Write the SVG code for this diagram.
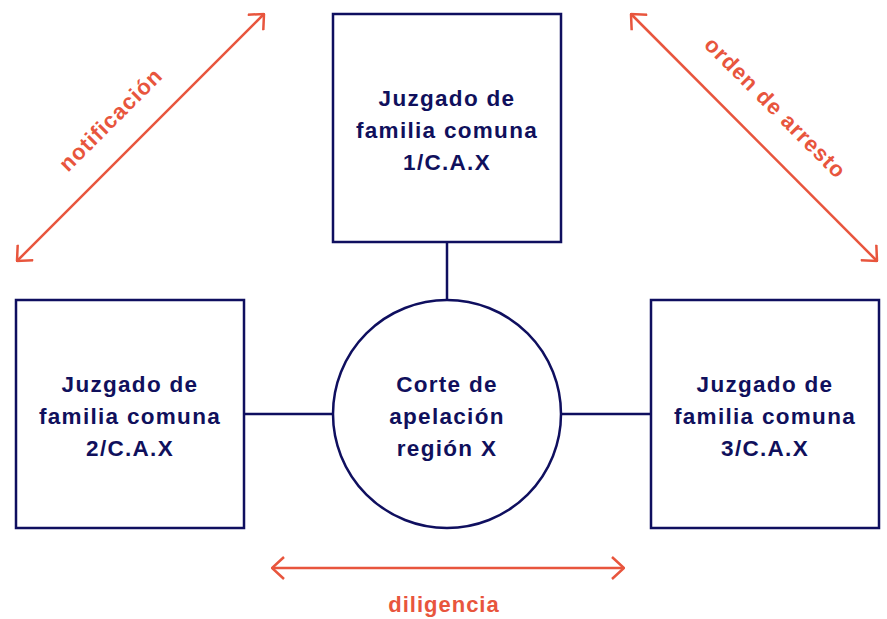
<svg xmlns="http://www.w3.org/2000/svg" width="887" height="619" viewBox="0 0 887 619">
<style>
.box{fill:#fff;stroke:#0f0f5f;stroke-width:2.5}
.link{stroke:#0f0f5f;stroke-width:2.5;fill:none}
.arr{stroke:#e8553d;stroke-width:2.5;fill:none}
.nt{font-family:"Liberation Sans",Arial,sans-serif;font-weight:bold;font-size:22.5px;fill:#10105c;text-anchor:middle;letter-spacing:1.3px}
.lt{font-family:"Liberation Sans",Arial,sans-serif;font-weight:bold;font-size:22px;fill:#e8553d;text-anchor:middle;letter-spacing:1px}
</style>
<defs>
<marker id="ah" viewBox="0 0 14 24" refX="13" refY="12" markerWidth="14" markerHeight="24" markerUnits="userSpaceOnUse" orient="auto-start-reverse">
<path d="M1,1 L13,12 L1,23" fill="none" stroke="#e8553d" stroke-width="2.5"/>
</marker>
</defs>
<g id="connectors">
<line class="link" x1="447" y1="242" x2="447" y2="300"/>
<line class="link" x1="244" y1="414" x2="333" y2="414"/>
<line class="link" x1="561" y1="414" x2="651" y2="414"/>
<line class="arr" x1="17" y1="261" x2="264" y2="14" marker-start="url(#ah)" marker-end="url(#ah)"/>
<line class="arr" x1="631" y1="14" x2="877" y2="261" marker-start="url(#ah)" marker-end="url(#ah)"/>
<line class="arr" x1="272" y1="568" x2="624" y2="568" marker-start="url(#ah)" marker-end="url(#ah)"/>
</g>
<g id="node1">
<rect class="box" x="333" y="14" width="228" height="228"/>
<text class="nt" x="447" y="106">Juzgado de</text>
<text class="nt" x="447" y="138">familia comuna</text>
<text class="nt" x="447" y="170">1/C.A.X</text>
</g>
<g id="node2">
<rect class="box" x="16" y="300" width="228" height="228"/>
<text class="nt" x="130" y="392">Juzgado de</text>
<text class="nt" x="130" y="424">familia comuna</text>
<text class="nt" x="130" y="456">2/C.A.X</text>
</g>
<g id="node3">
<rect class="box" x="651" y="300" width="228" height="228"/>
<text class="nt" x="765" y="392">Juzgado de</text>
<text class="nt" x="765" y="424">familia comuna</text>
<text class="nt" x="765" y="456">3/C.A.X</text>
</g>
<g id="center">
<circle class="box" cx="447" cy="414" r="114"/>
<text class="nt" x="447" y="392">Corte de</text>
<text class="nt" x="447" y="424">apelación</text>
<text class="nt" x="447" y="456">región X</text>
</g>
<g id="labels">
<text class="lt" transform="translate(111,120) rotate(-45)" y="7">notificación</text>
<text class="lt" transform="translate(775,108) rotate(45)" y="7">orden de arresto</text>
<text class="lt" x="444" y="612">diligencia</text>
</g>
</svg>
